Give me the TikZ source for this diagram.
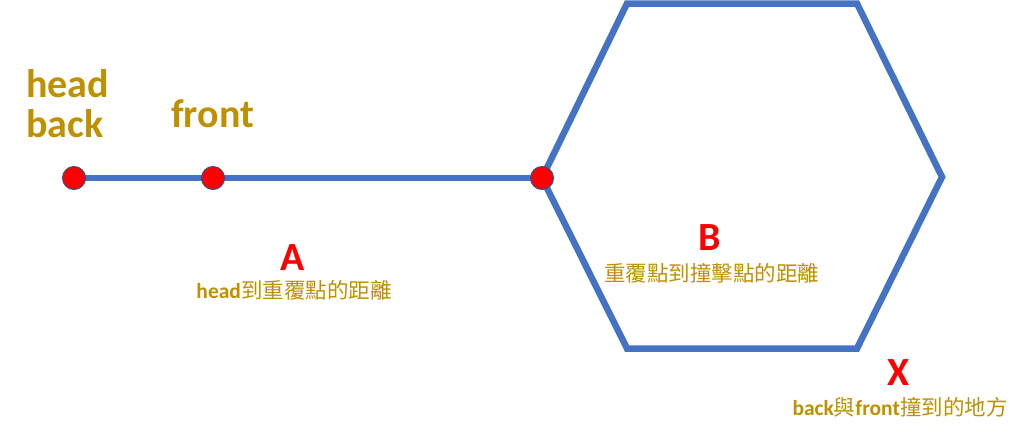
\documentclass[tikz,border=0pt]{standalone}
\usepackage{fontspec}
\setmainfont{Carlito}
\newfontfamily\cjk{Noto Sans CJK TC}
\usetikzlibrary{positioning, backgrounds}
\definecolor{trackgold}{HTML}{BF9000}
\definecolor{trackblue}{HTML}{4472C4}
\definecolor{trackred}{HTML}{FF0000}
\definecolor{tracknavy}{HTML}{2F528F}
\tikzset{
  joint/.style={circle, fill=trackred, draw=tracknavy, line width=1pt,
    minimum size=23pt, inner sep=0pt},
  track/.style={trackblue, line width=6.5pt},
  tag/.style={font=\bfseries\fontsize{40}{44}\selectfont, text=trackgold,
    anchor=base west, inner sep=0pt},
  letter/.style={font=\bfseries\fontsize{40}{44}\selectfont, text=trackred,
    anchor=base, inner sep=0pt},
  note/.style={font=\fontsize{21.5}{24}\selectfont, text=trackgold,
    anchor=base, inner sep=0pt}
}

\begin{document}
\begin{tikzpicture}[x=1pt, y=-1pt]
  \useasboundingbox (0,0) rectangle (1024,434);
  % pointers
  \node[tag] (headtag) at (26,97.5) {head};
  \node[tag] (backtag) at (26,137.5) {back};
  \node[tag] (fronttag) at (171,127.5) {front};
  % dots on the track
  \node[joint] (head) at (74,178) {};
  \node[joint] (front) at (213,178) {};
  \node[joint] (hit) at (542,178) {};
  % hexagon corners
  \coordinate (tl) at (627,3.5);
  \coordinate (tr) at (857,3.5);
  \coordinate (rt) at (942,177);
  \coordinate (br) at (857,348.5);
  \coordinate (bl) at (627,348.5);
  % distances
  \node[letter] (A) at (292.5,270) {A};
  \node[note] (Anote) at (294,298) {{\bfseries head}{\cjk 到重覆點的距離}};
  \node[letter] (B) at (710,250) {B};
  \node[note] (Bnote) at (711.5,281) {\cjk 重覆點到撞擊點的距離};
  \node[letter] (X) at (899,385) {X};
  \node[note] (Xnote) at (900,415) {{\bfseries back}{\cjk 與}{\bfseries front}{\cjk 撞到的地方}};
  \begin{scope}[on background layer]
    \draw[track] (head.center) -- (hit.center);
    \draw[track] (hit.center) -- (tl) -- (tr) -- (rt) -- (br) -- (bl) -- cycle;
  \end{scope}
\end{tikzpicture}
\end{document}
